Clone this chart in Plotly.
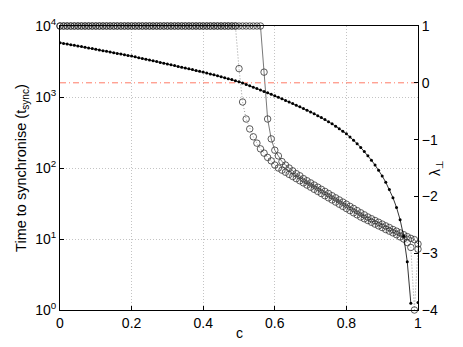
import plotly.graph_objects as go

# coupling strength c, step 0.01
c = [round(i * 0.01, 2) for i in range(101)]

# transverse Lyapunov exponent (right axis)
lam_perp = [
    0.705, 0.694, 0.683, 0.672, 0.661, 0.650, 0.638, 0.626, 0.614, 0.602,
    0.590, 0.578, 0.566, 0.554, 0.542, 0.530, 0.518, 0.506, 0.494, 0.482,
    0.470, 0.457, 0.443, 0.429, 0.415, 0.401, 0.387, 0.373, 0.359, 0.345,
    0.331, 0.317, 0.303, 0.289, 0.275, 0.261, 0.247, 0.233, 0.218, 0.203,
    0.188, 0.172, 0.156, 0.140, 0.124, 0.107, 0.090, 0.073, 0.056, 0.038,
    0.020, -0.004, -0.028, -0.052, -0.077, -0.102, -0.127, -0.152, -0.177, -0.203,
    -0.229, -0.256, -0.283, -0.310, -0.338, -0.366, -0.394, -0.423, -0.452, -0.482,
    -0.513, -0.545, -0.578, -0.612, -0.647, -0.684, -0.723, -0.764, -0.807, -0.852,
    -0.899, -0.955, -1.010, -1.072, -1.138, -1.208, -1.283, -1.363, -1.448, -1.540,
    -1.640, -1.752, -1.878, -2.022, -2.195, -2.410, -2.700, -3.150, -3.880, None,
    -3.870,
]

# time to synchronise, first run (dotted); 1e4 = never synchronised
t_sync_a = [1e4] * 50 + [
    2510, 851, 490, 355, 275, 224, 186, 162, 141, 126,
    110, 100, 93.3, 87.1, 81.3, 75.9, 70.8, 66.1, 61.7, 57.5,
    53.7, 50.1, 46.8, 43.7, 40.7, 38.0, 35.5, 33.1, 30.9, 28.8,
    26.9, 25.1, 23.4, 21.9, 20.4, 19.3, 18.2, 17.2, 16.2, 15.3,
    14.5, 13.6, 12.9, 12.2, 11.5, 10.7, 10.0, 8.9, 7.6, 1.0,
    7.2,
]

# time to synchronise, second run (solid)
t_sync_b = [1e4] * 57 + [
    2240, 490, 257, 178, 148, 123, 110, 100, 91.2, 83.2,
    77.6, 70.8, 66.1, 61.7, 57.5, 53.7, 50.1, 46.8, 43.7, 40.7,
    38.0, 35.5, 33.1, 30.9, 28.8, 26.9, 25.1, 23.4, 21.9, 20.4,
    19.3, 18.2, 17.2, 16.2, 15.3, 14.5, 13.6, 12.9, 12.2, 11.5,
    10.8, 10.2, 9.8, 8.5,
]

x_ticks = [0, 0.2, 0.4, 0.6, 0.8, 1]
x_labels = ["0", "0.2", "0.4", "0.6", "0.8", "1"]
y_ticks = [1, 10, 100, 1000, 10000]
y_labels = ["10<sup>0</sup>", "10<sup>1</sup>", "10<sup>2</sup>", "10<sup>3</sup>", "10<sup>4</sup>"]
y2_ticks = [-4, -3, -2, -1, 0, 1]

fig = go.Figure()

fig.add_trace(go.Scatter(
    x=[0, 1], y=[0, 0], yaxis="y2", mode="lines",
    line=dict(color="#ff7b66", width=1, dash="6px,3px,1px,3px"),
))
fig.add_trace(go.Scatter(
    x=c, y=t_sync_a, mode="lines+markers",
    line=dict(color="#9a9a9a", width=1, dash="1px,2px"),
    marker=dict(symbol="circle-open", size=6.5, color="#333333", line=dict(width=0.8)),
    cliponaxis=False,
))
fig.add_trace(go.Scatter(
    x=c, y=t_sync_b, mode="lines+markers",
    line=dict(color="#555555", width=0.8),
    marker=dict(symbol="circle-open", size=6.5, color="#333333", line=dict(width=0.8)),
    cliponaxis=False,
))
fig.add_trace(go.Scatter(
    x=c, y=lam_perp, yaxis="y2", mode="lines+markers",
    line=dict(color="black", width=0.8),
    marker=dict(symbol="circle", size=3, color="black"),
    connectgaps=False,
))

axis_font = dict(family="Liberation Sans, Arial", size=14, color="black")
grid = dict(showgrid=True, gridcolor="#c4c4c4", griddash="1px,2px", gridwidth=1)

fig.update_layout(
    width=463, height=347,
    margin=dict(l=60, r=45, t=26, b=37),
    paper_bgcolor="white", plot_bgcolor="white",
    showlegend=False,
    font=axis_font,
    xaxis=dict(
        range=[0, 1], tickvals=x_ticks, ticktext=x_labels, **grid,
        ticks="inside", ticklen=4, tickcolor="black",
        showline=True, linecolor="black", linewidth=1, mirror=True,
        zeroline=False, automargin=False,
    ),
    yaxis=dict(
        type="log", range=[0, 4], tickvals=y_ticks, ticktext=y_labels, **grid,
        ticks="inside", ticklen=4, tickcolor="black",
        showline=True, linecolor="black", linewidth=1,
        zeroline=False, automargin=False,
        title=dict(text="Time to synchronise (t<sub>sync</sub>)", standoff=5,
                   font=dict(size=14.5)),
    ),
    yaxis2=dict(
        overlaying="y", side="right", range=[-4, 1], tickvals=y2_ticks,
        showgrid=False, zeroline=False,
        ticks="inside", ticklen=4, tickcolor="black",
        showline=True, linecolor="black", linewidth=1, automargin=False,
    ),
    annotations=[
        dict(text="c", xref="paper", yref="paper", x=0.5, y=-0.08,
             yanchor="middle", showarrow=False, font=dict(size=14)),
        dict(text="λ<sub>⊥</sub>", xref="paper", yref="paper", x=1.05, y=0.5,
             xanchor="center", yanchor="middle",
             textangle=-90, showarrow=False, font=dict(size=14)),
    ],
)

# drop the page's default body margin so the figure sits at the window's corner
fig.write_html("out.html", config={"displayModeBar": False},
               post_script="document.body.style.margin='0';")
